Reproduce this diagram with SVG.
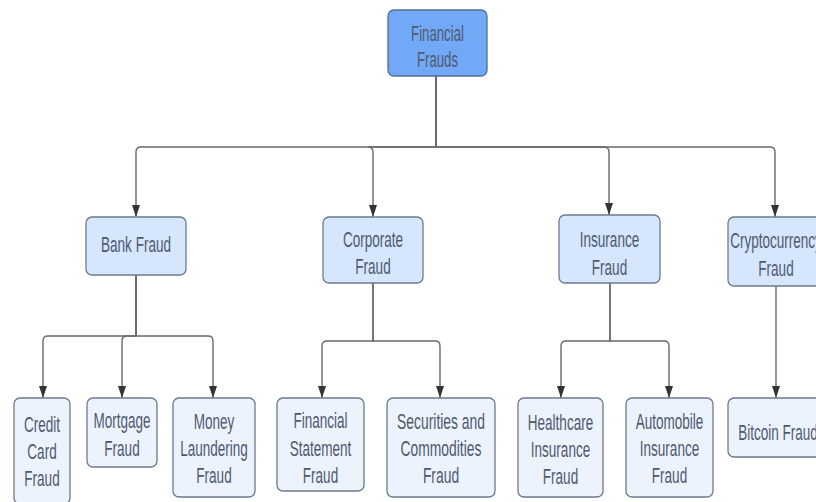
<svg xmlns="http://www.w3.org/2000/svg" width="816" height="502" viewBox="0 0 816 502">
<style>
  .root{fill:#72a9f6;stroke:#4f6f9a;stroke-width:1.3}
  .mid{fill:#d5e6fd;stroke:#6c7a8e;stroke-width:1.3}
  .leaf{fill:#ecf3fd;stroke:#6c7a8e;stroke-width:1.3}
  text{font-family:"Liberation Sans",Arial,sans-serif;font-size:22px;fill:#4f5a70;text-anchor:middle}
  .c{fill:none;stroke:#6a6a6a;stroke-width:1.4}
</style>
<defs>
  <marker id="ad" markerUnits="userSpaceOnUse" markerWidth="10" markerHeight="12" viewBox="0 0 10 12" refX="5" refY="12" orient="0">
    <path d="M1,0 L9,0 L5,12 Z" fill="#333"/>
  </marker>
</defs>
<rect width="816" height="502" fill="#ffffff"/>
<g id="connectors">
  <path class="c" d="M436,76 V147 H141 Q136,147 136,152 V217" marker-end="url(#ad)"/>
  <path class="c" d="M436,76 V147 H368 Q373,147 373,152 V217" marker-end="url(#ad)"/>
  <path class="c" d="M436,76 V147 H604 Q609,147 609,152 V215" marker-end="url(#ad)"/>
  <path class="c" d="M436,76 V147 H770 Q775,147 775,152 V217" marker-end="url(#ad)"/>
  <path class="c" d="M136,275 V336 H48 Q43,336 43,341 V398" marker-end="url(#ad)"/>
  <path class="c" d="M136,275 V336 H127 Q122,336 122,341 V398" marker-end="url(#ad)"/>
  <path class="c" d="M136,275 V336 H208 Q213,336 213,341 V398" marker-end="url(#ad)"/>
  <path class="c" d="M373,283 V341 H327 Q322,341 322,346 V398" marker-end="url(#ad)"/>
  <path class="c" d="M373,283 V341 H435 Q440,341 440,346 V398" marker-end="url(#ad)"/>
  <path class="c" d="M610,283 V341 H566 Q561,341 561,346 V398" marker-end="url(#ad)"/>
  <path class="c" d="M610,283 V341 H664 Q669,341 669,346 V398" marker-end="url(#ad)"/>
  <path class="c" d="M776,286 V398" marker-end="url(#ad)"/>
</g>
<g id="financial-frauds">
  <rect class="root" x="388" y="10" width="99" height="66" rx="6"/>
  <text transform="translate(437.5,0) scale(0.6,1)"><tspan x="0" y="41">Financial</tspan><tspan x="0" y="67">Frauds</tspan></text>
</g>
<g id="bank-fraud">
  <rect class="mid" x="86" y="217" width="100" height="58" rx="6"/>
  <text transform="translate(136,0) scale(0.615,1)"><tspan x="0" y="252">Bank Fraud</tspan></text>
</g>
<g id="corporate-fraud">
  <rect class="mid" x="323" y="217" width="100" height="66" rx="6"/>
  <text transform="translate(373,0) scale(0.615,1)"><tspan x="0" y="247">Corporate</tspan><tspan x="0" y="274">Fraud</tspan></text>
</g>
<g id="insurance-fraud">
  <rect class="mid" x="559" y="215" width="101" height="68" rx="6"/>
  <text transform="translate(609.5,0) scale(0.615,1)"><tspan x="0" y="247">Insurance</tspan><tspan x="0" y="275">Fraud</tspan></text>
</g>
<g id="cryptocurrency-fraud">
  <rect class="mid" x="728" y="217" width="100" height="69" rx="6"/>
  <text transform="translate(776,0) scale(0.615,1)"><tspan x="0" y="248">Cryptocurrency</tspan><tspan x="0" y="276">Fraud</tspan></text>
</g>
<g id="credit-card-fraud">
  <rect class="leaf" x="14" y="398" width="56" height="106" rx="6"/>
  <text transform="translate(42,0) scale(0.615,1)"><tspan x="0" y="432">Credit</tspan><tspan x="0" y="459">Card</tspan><tspan x="0" y="486">Fraud</tspan></text>
</g>
<g id="mortgage-fraud">
  <rect class="leaf" x="87" y="398" width="70" height="69" rx="6"/>
  <text transform="translate(122,0) scale(0.615,1)"><tspan x="0" y="428">Mortgage</tspan><tspan x="0" y="456">Fraud</tspan></text>
</g>
<g id="money-laundering-fraud">
  <rect class="leaf" x="173" y="398" width="82" height="99" rx="6"/>
  <text transform="translate(214,0) scale(0.615,1)"><tspan x="0" y="429">Money</tspan><tspan x="0" y="456">Laundering</tspan><tspan x="0" y="483">Fraud</tspan></text>
</g>
<g id="financial-statement-fraud">
  <rect class="leaf" x="277" y="398" width="87" height="93" rx="6"/>
  <text transform="translate(320.5,0) scale(0.615,1)"><tspan x="0" y="428">Financial</tspan><tspan x="0" y="456">Statement</tspan><tspan x="0" y="483">Fraud</tspan></text>
</g>
<g id="securities-commodities-fraud">
  <rect class="leaf" x="387" y="398" width="108" height="99" rx="6"/>
  <text transform="translate(441,0) scale(0.63,1)"><tspan x="0" y="429">Securities and</tspan><tspan x="0" y="456">Commodities</tspan><tspan x="0" y="483">Fraud</tspan></text>
</g>
<g id="healthcare-insurance-fraud">
  <rect class="leaf" x="518" y="398" width="85" height="99" rx="6"/>
  <text transform="translate(560.5,0) scale(0.615,1)"><tspan x="0" y="430">Healthcare</tspan><tspan x="0" y="457">Insurance</tspan><tspan x="0" y="484">Fraud</tspan></text>
</g>
<g id="automobile-insurance-fraud">
  <rect class="leaf" x="626" y="398" width="87" height="99" rx="6"/>
  <text transform="translate(669.5,0) scale(0.615,1)"><tspan x="0" y="429">Automobile</tspan><tspan x="0" y="456">Insurance</tspan><tspan x="0" y="483">Fraud</tspan></text>
</g>
<g id="bitcoin-fraud">
  <rect class="leaf" x="728" y="398" width="100" height="59" rx="6"/>
  <text transform="translate(778,0) scale(0.615,1)"><tspan x="0" y="440">Bitcoin Fraud</tspan></text>
</g>
</svg>
